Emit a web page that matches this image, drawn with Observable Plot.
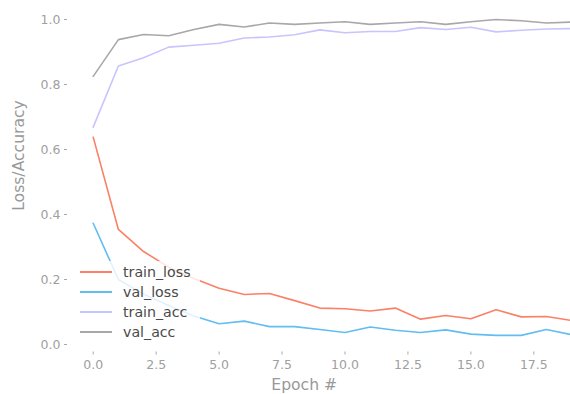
<!DOCTYPE html>
<html>
<head>
<meta charset="utf-8">
<script src="https://cdn.jsdelivr.net/npm/d3@7"></script>
<script src="https://cdn.jsdelivr.net/npm/@observablehq/plot@0.6"></script>
<style>
  html, body { margin: 0; padding: 0; background: #fff; }
  #wrap { position: relative; width: 570px; height: 394px; overflow: hidden; font-family: "DejaVu Sans", sans-serif; }
  #legend { position: absolute; left: 72px; top: 261px; width: 128px; height: 83px; background: rgba(255,255,255,0.8); }
  .row { position: absolute; left: 8px; height: 20px; display: flex; align-items: center; font-size: 14.2px; color: #4a4a4a; }
  .sw { width: 32px; height: 0; border-top: 2px solid; margin-right: 11px; }
</style>
</head>
<body>
<div id="wrap"></div>
<script>
const epochs = [0,1,2,3,4,5,6,7,8,9,10,11,12,13,14,15,16,17,18,19];
const train_loss = [0.638,0.354,0.286,0.238,0.203,0.173,0.154,0.157,0.135,0.112,0.110,0.103,0.112,0.078,0.089,0.079,0.107,0.085,0.086,0.074];
const val_loss   = [0.373,0.200,0.155,0.120,0.088,0.064,0.072,0.055,0.055,0.046,0.037,0.054,0.044,0.037,0.045,0.032,0.028,0.028,0.046,0.030];
const train_acc  = [0.669,0.857,0.882,0.915,0.921,0.927,0.943,0.946,0.953,0.968,0.959,0.963,0.963,0.975,0.969,0.976,0.962,0.967,0.971,0.972];
const val_acc    = [0.825,0.938,0.954,0.950,0.969,0.985,0.977,0.989,0.985,0.989,0.993,0.985,0.989,0.993,0.985,0.993,1.000,0.996,0.989,0.992];
const seriesNames = ["train_loss","val_loss","train_acc","val_acc"];
const seriesColors = ["#fa8066","#62bdf0","#c8c4fd","#a8a8a8"];
const xTicks = [0,2.5,5,7.5,10,12.5,15,17.5];
const yTicks = [0,0.2,0.4,0.6,0.8,1.0];
const xLabel = "Epoch #";
const yLabel = "Loss/Accuracy";

const seriesValues = [train_loss, val_loss, train_acc, val_acc];
const rows = [];
seriesNames.forEach((name, i) => epochs.forEach((e, j) => rows.push({epoch: e, value: seriesValues[i][j], series: name})));

const fmt = d => d.toFixed(1);
const chart = Plot.plot({
  width: 570,
  height: 394,
  marginLeft: 67,
  marginRight: 0,
  marginTop: 10,
  marginBottom: 42.5,
  style: {fontFamily: "DejaVu Sans, sans-serif", fontSize: "12.5px", color: "#a0a0a0", background: "#fff"},
  x: {domain: [0, 19], range: [92.7, 571.1], label: null},
  y: {domain: [0, 1], range: [344, 19], label: null},
  color: {domain: seriesNames, range: seriesColors},
  marks: [
    Plot.axisX({ticks: xTicks, tickFormat: fmt, tickSize: 3, tickPadding: 5, label: null, stroke: "#a8a8a8"}),
    Plot.axisY({ticks: yTicks, tickFormat: fmt, tickSize: 3, tickPadding: 4, label: null, stroke: "#a8a8a8"}),
    Plot.line(rows, {x: "epoch", y: "value", z: "series", stroke: "series", strokeWidth: 1.6}),
    Plot.text([xLabel], {frameAnchor: "bottom-left", dx: 303.7 - 67, dy: 33, fontSize: 15.6, fill: "#999", textAnchor: "middle", lineAnchor: "middle"}),
    Plot.text([yLabel], {frameAnchor: "top-left", dx: 18.5 - 67, dy: 155 - 10, fontSize: 15.6, fill: "#999", textAnchor: "middle", lineAnchor: "middle", rotate: -90})
  ]
});
const wrap = document.getElementById("wrap");
wrap.appendChild(chart);

const legend = document.createElement("div");
legend.id = "legend";
seriesNames.forEach((name, i) => {
  const r = document.createElement("div");
  r.className = "row";
  r.style.top = (1 + i * 20) + "px";
  const sw = document.createElement("span");
  sw.className = "sw";
  sw.style.borderTopColor = seriesColors[i];
  const t = document.createElement("span");
  t.textContent = name;
  r.appendChild(sw); r.appendChild(t);
  legend.appendChild(r);
});
wrap.appendChild(legend);
</script>
</body>
</html>
